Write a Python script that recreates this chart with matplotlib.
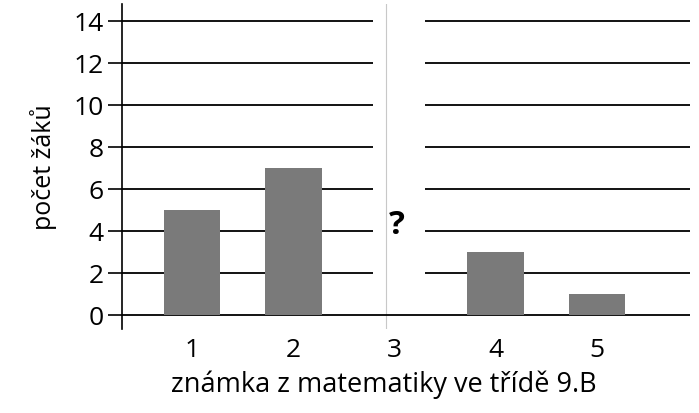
import numpy as np
import matplotlib.pyplot as plt

plt.rcParams['font.family'] = ['Open Sans', 'DejaVu Sans']

grades = [1, 2, 3, 4, 5]
grade_labels = ['1', '2', '3', '4', '5']
students = [5, 7, np.nan, 3, 1]   # grade 3 is the unknown "?"
y_ticks = [0, 2, 4, 6, 8, 10, 12, 14]

fig = plt.figure(figsize=(6.99, 4.14), dpi=100)
ax = fig.add_axes([0.1745, 0.203, 0.813, 0.785])

xmin, xmax = 0.31, 5.92
ax.set_xlim(xmin, xmax)
ax.set_ylim(-0.67, 14.8)

# grid lines, interrupted around the missing bar
gap_lo, gap_hi = 2.79, 3.3
for y in y_ticks:
    if y == 0:
        ax.hlines(y, xmin, xmax, color='black', lw=1.3, zorder=1)
    else:
        ax.hlines(y, xmin, gap_lo, color='black', lw=1.3, zorder=1)
        ax.hlines(y, gap_hi, xmax, color='black', lw=1.3, zorder=1)

heights = [0 if np.isnan(v) else v for v in students]
ax.bar(grades, heights, width=0.56, color='#7a7a7a', zorder=2)

ax.text(3.02, 4.3, '?', fontsize=24, fontweight='bold', ha='center', va='center')

# faint fold line from the scan
ax.axvline(2.92, color='#c8c8c8', lw=0.8, zorder=0)

for side in ['top', 'right', 'bottom']:
    ax.spines[side].set_visible(False)
ax.spines['left'].set_linewidth(1.2)

ax.set_yticks(y_ticks)
ax.set_xticks(grades)
ax.set_xticklabels(grade_labels)
ax.tick_params(axis='y', length=10, width=1.2, labelsize=19, pad=3)
ax.tick_params(axis='x', length=0, labelsize=19, pad=6)

ax.set_ylabel('počet žáků', fontsize=18, labelpad=12)
ax.set_xlabel('známka z matematiky ve třídě 9.B', fontsize=19.5)
ax.xaxis.set_label_coords(0.46, -0.125)

fig.savefig('out.png', dpi=100)
